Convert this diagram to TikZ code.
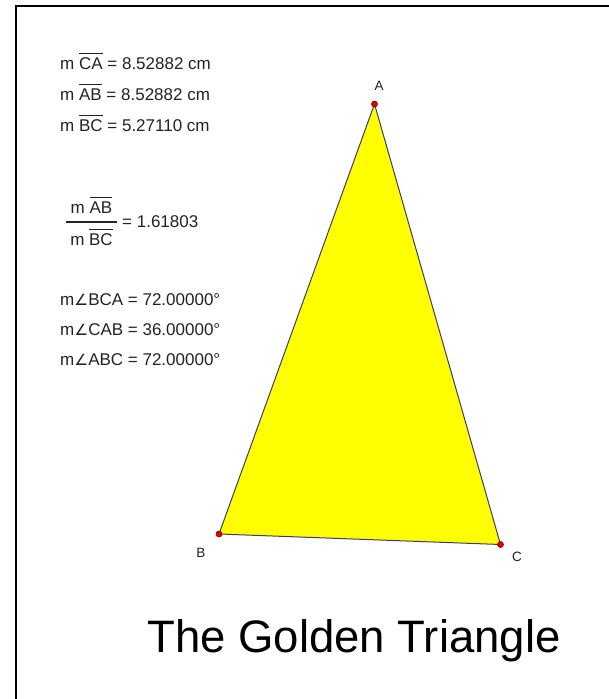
\documentclass[tikz,border=0pt]{standalone}
\usepackage{fontspec}
\setmainfont{Liberation Sans}
\newfontfamily\dejavu{DejaVu Sans}
\definecolor{edgecol}{RGB}{60,60,110}
\definecolor{dotred}{RGB}{225,0,0}
\definecolor{dotrim}{RGB}{120,0,0}
\definecolor{txtgray}{RGB}{35,35,35}
\definecolor{fillyellow}{RGB}{255,255,0}
\newcommand{\ovl}[1]{$\overline{\mbox{\vphantom{Ä}#1}}$}
\newcommand{\ang}{{\dejavu\fontsize{15.5}{18}\selectfont ∠}}
\tikzset{
  meas/.style={anchor=base west, inner sep=0pt, text=txtgray, font=\fontsize{17}{20}\selectfont},
  fracpart/.style={anchor=base, inner sep=0pt, text=txtgray, font=\fontsize{17}{20}\selectfont},
  vlabel/.style={anchor=center, inner sep=0pt, text=txtgray, font=\fontsize{13.5}{15}\selectfont},
  dot/.style={fill=dotred},
  frame/.style={line width=2pt, black},
  edge/.style={draw=edgecol, line width=1pt, line join=round}
}
\begin{document}
\begin{tikzpicture}[x=1pt,y=-1pt]
\useasboundingbox (0,0) rectangle (609,699);
\fill[white] (0,0) rectangle (609,699);
\draw[frame] (16,700) -- (16,5.5) -- (610,5.5);

% measurements
\node[meas] (m1) at (60,69) {m \ovl{CA} = 8.52882 cm};
\node[meas] (m2) at (60,100) {m \ovl{AB} = 8.52882 cm};
\node[meas] (m3) at (60,131) {m \ovl{BC} = 5.27110 cm};

% ratio
\node[fracpart] (num) at (91.5,213) {m \ovl{AB}};
\node[fracpart] (den) at (91.5,245) {m \ovl{BC}};
\coordinate (barL) at (66,222);
\coordinate (barR) at (117,222);
\draw[txtgray, line width=1.3pt] (barL) -- (barR);
\node[meas] (ratio) at (122,227) {= 1.61803};

% angles
\node[meas] (a1) at (60,305) {m\ang BCA = 72.00000°};
\node[meas] (a2) at (60,335) {m\ang CAB = 36.00000°};
\node[meas] (a3) at (60,365) {m\ang ABC = 72.00000°};

% triangle
\coordinate (A) at (374.5,104);
\coordinate (B) at (219,534);
\coordinate (C) at (500.5,544.5);
\fill[fillyellow] (A) -- (B) -- (C) -- cycle;
\draw[edge] (A) -- (B) -- (C) -- cycle;
\fill[dot] (A) circle (3);
\fill[dot] (B) circle (3);
\fill[dot] (C) circle (3);
\draw[dotrim, line width=0.6pt] (A) circle (3) (B) circle (3) (C) circle (3);

\node[vlabel] (lA) at (379,86) {A};
\node[vlabel] (lB) at (201,553) {B};
\node[vlabel] (lC) at (517,557) {C};

% title
\node[anchor=base, inner sep=0pt, font=\fontsize{45.5}{50}\selectfont] (title) at (354,652) {The Golden Triangle};
\end{tikzpicture}
\end{document}
